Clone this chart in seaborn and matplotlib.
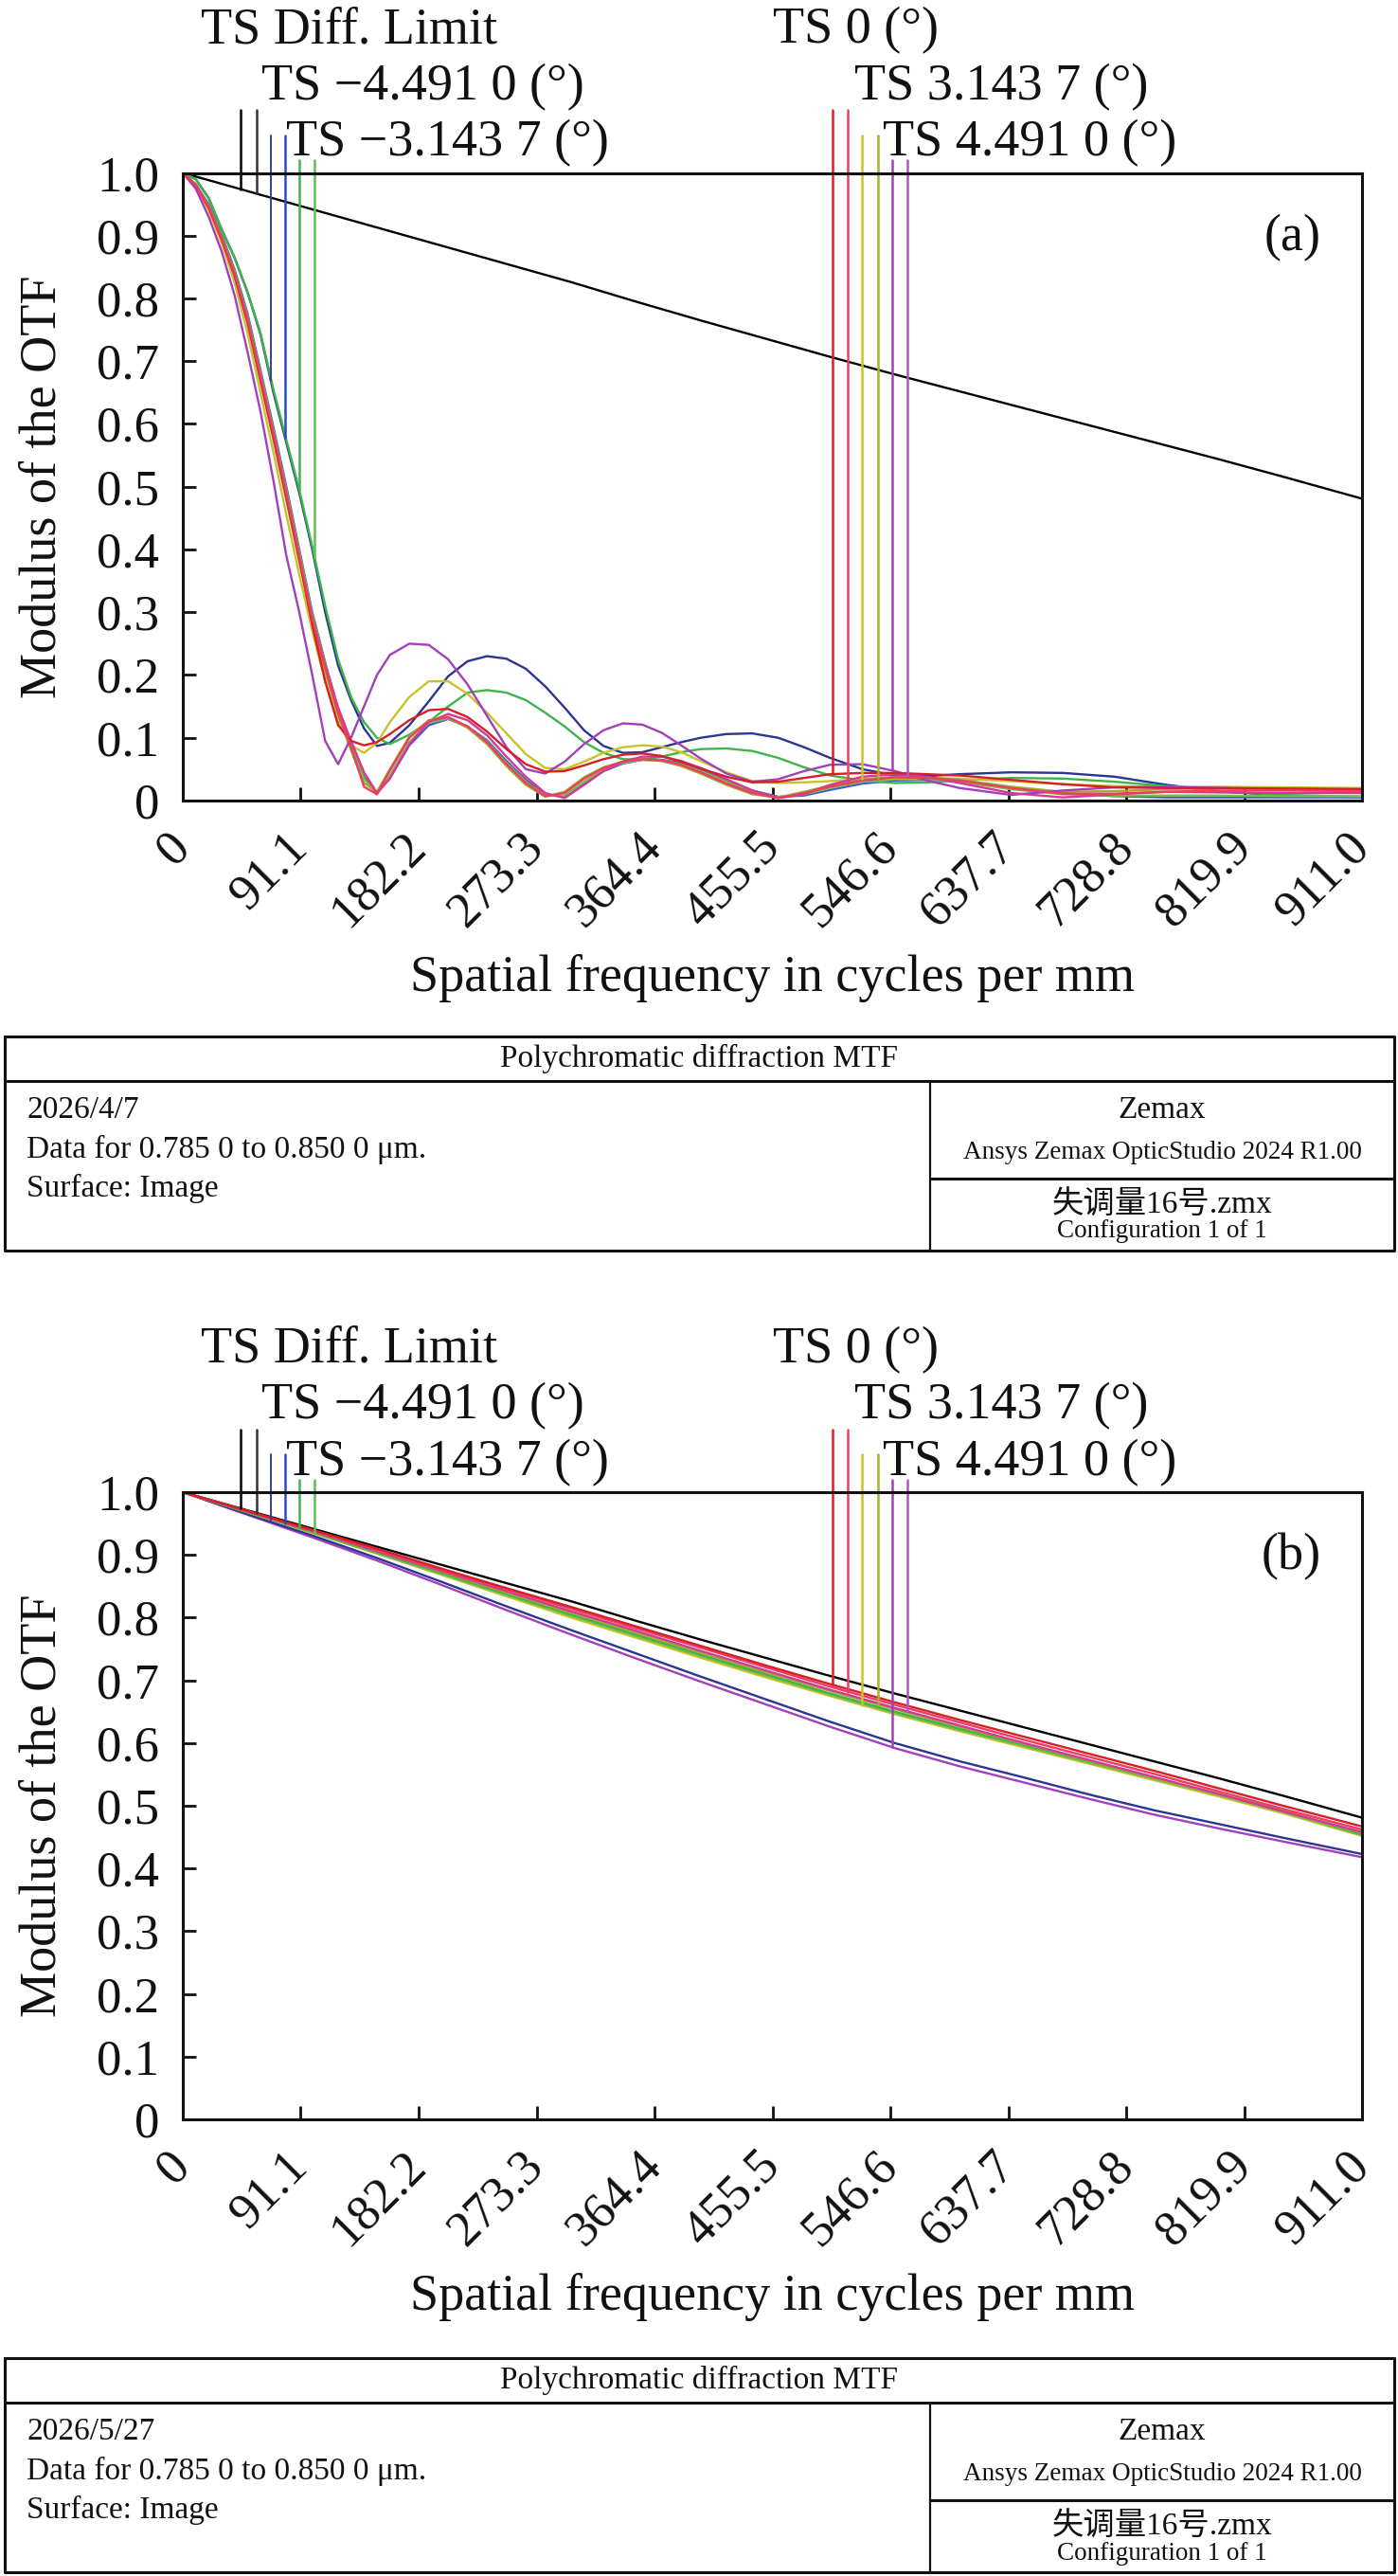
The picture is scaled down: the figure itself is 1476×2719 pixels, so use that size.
import numpy as np
import pandas as pd
import matplotlib
matplotlib.use("Agg")
import matplotlib.pyplot as plt
import seaborn as sns

# ---- data -----------------------------------------------------------------
# spatial frequency grids (cycles per mm)
freq_a = [0, 10, 20, 30, 40, 50, 60, 70, 80, 90, 100, 110, 120, 130, 140, 150, 160,
          175, 190, 205, 220, 235, 250, 265, 280, 295, 310, 325, 340, 355, 370, 385,
          400, 420, 440, 460, 480, 500, 525, 550, 575, 600, 640, 680, 720, 760, 800,
          850, 911]
freq_b = [0, 50, 100, 150, 200, 250, 300, 350, 400, 450, 500, 550, 600, 650, 700,
          750, 800, 850, 911]

diff_limit = [1.0, 0.971, 0.942, 0.913, 0.884, 0.855, 0.826, 0.795, 0.765, 0.736,
              0.707, 0.679, 0.652, 0.625, 0.598, 0.571, 0.544, 0.516, 0.481]

# (a) misaligned system
a_blue_t = [1.0, 0.99, 0.96, 0.91, 0.865, 0.81, 0.743, 0.65, 0.57, 0.49, 0.4, 0.3, 0.215,
            0.16, 0.115, 0.087, 0.092, 0.12, 0.158, 0.198, 0.222, 0.23, 0.226, 0.21, 0.182,
            0.148, 0.112, 0.087, 0.076, 0.077, 0.085, 0.093, 0.1, 0.106, 0.107, 0.1, 0.085,
            0.068, 0.05, 0.04, 0.039, 0.042, 0.045, 0.044, 0.038, 0.025, 0.015, 0.008, 0.005]
a_blue_s = [1.0, 0.982, 0.95, 0.902, 0.846, 0.776, 0.686, 0.595, 0.5, 0.4, 0.3, 0.22, 0.146,
            0.09, 0.038, 0.012, 0.036, 0.088, 0.12, 0.13, 0.118, 0.096, 0.063, 0.033, 0.01,
            0.006, 0.026, 0.047, 0.059, 0.065, 0.065, 0.06, 0.05, 0.033, 0.016, 0.006, 0.008,
            0.017, 0.027, 0.032, 0.033, 0.03, 0.02, 0.012, 0.007, 0.005, 0.005, 0.005, 0.005]
a_green_t = [1.0, 0.99, 0.96, 0.91, 0.865, 0.81, 0.745, 0.655, 0.575, 0.495, 0.405, 0.31,
             0.225, 0.165, 0.125, 0.1, 0.09, 0.105, 0.125, 0.15, 0.172, 0.176, 0.172, 0.16,
             0.14, 0.118, 0.093, 0.076, 0.066, 0.065, 0.07, 0.077, 0.082, 0.083, 0.079, 0.068,
             0.053, 0.04, 0.032, 0.028, 0.029, 0.032, 0.036, 0.035, 0.03, 0.023, 0.015, 0.009,
             0.006]
a_green_s = [1.0, 0.982, 0.948, 0.9, 0.843, 0.772, 0.682, 0.59, 0.495, 0.396, 0.296, 0.218,
             0.145, 0.088, 0.035, 0.01, 0.04, 0.093, 0.124, 0.131, 0.117, 0.094, 0.06, 0.03,
             0.008, 0.008, 0.03, 0.05, 0.06, 0.065, 0.064, 0.058, 0.047, 0.03, 0.013, 0.005,
             0.01, 0.02, 0.03, 0.034, 0.034, 0.03, 0.018, 0.01, 0.008, 0.008, 0.008, 0.007,
             0.007]
a_red_t = [1.0, 0.98, 0.945, 0.895, 0.838, 0.765, 0.672, 0.58, 0.485, 0.385, 0.28, 0.19,
           0.12, 0.095, 0.088, 0.093, 0.106, 0.128, 0.144, 0.146, 0.133, 0.11, 0.082, 0.058,
           0.046, 0.047, 0.056, 0.066, 0.073, 0.075, 0.071, 0.062, 0.051, 0.038, 0.029, 0.03,
           0.036, 0.042, 0.044, 0.044, 0.042, 0.04, 0.033, 0.026, 0.021, 0.02, 0.02, 0.019,
           0.018]
a_red_s = [1.0, 0.98, 0.946, 0.897, 0.84, 0.768, 0.677, 0.586, 0.49, 0.39, 0.29, 0.212,
           0.14, 0.085, 0.022, 0.01, 0.048, 0.1, 0.127, 0.133, 0.118, 0.093, 0.058, 0.028,
           0.007, 0.012, 0.035, 0.052, 0.062, 0.066, 0.064, 0.057, 0.045, 0.027, 0.012, 0.004,
           0.012, 0.022, 0.032, 0.037, 0.036, 0.032, 0.02, 0.011, 0.011, 0.014, 0.016, 0.016,
           0.015]
a_yellow_t = [1.0, 0.978, 0.94, 0.888, 0.825, 0.745, 0.65, 0.555, 0.455, 0.36, 0.27, 0.19,
              0.125, 0.088, 0.076, 0.092, 0.125, 0.165, 0.19, 0.19, 0.17, 0.14, 0.107, 0.074,
              0.052, 0.05, 0.062, 0.076, 0.085, 0.088, 0.086, 0.077, 0.063, 0.045, 0.031, 0.028,
              0.029, 0.031, 0.034, 0.036, 0.036, 0.035, 0.031, 0.026, 0.023, 0.022, 0.022,
              0.021, 0.02]
a_yellow_s = [1.0, 0.98, 0.944, 0.894, 0.835, 0.76, 0.668, 0.575, 0.478, 0.38, 0.285, 0.205,
              0.135, 0.08, 0.028, 0.014, 0.05, 0.102, 0.128, 0.132, 0.116, 0.09, 0.055, 0.025,
              0.006, 0.014, 0.037, 0.053, 0.062, 0.065, 0.063, 0.055, 0.043, 0.025, 0.01, 0.005,
              0.014, 0.024, 0.034, 0.038, 0.037, 0.033, 0.022, 0.014, 0.015, 0.018, 0.02, 0.02,
              0.019]
a_magenta_t = [1.0, 0.975, 0.93, 0.875, 0.805, 0.715, 0.62, 0.51, 0.39, 0.3, 0.2, 0.095,
               0.058, 0.1, 0.15, 0.2, 0.232, 0.25, 0.248, 0.225, 0.185, 0.135, 0.085, 0.05,
               0.043, 0.062, 0.09, 0.112, 0.123, 0.121, 0.108, 0.088, 0.067, 0.043, 0.03,
               0.034, 0.047, 0.057, 0.058, 0.047, 0.032, 0.02, 0.009, 0.016, 0.021, 0.022,
               0.02, 0.018, 0.016]
a_magenta_s = [1.0, 0.98, 0.945, 0.895, 0.836, 0.762, 0.67, 0.578, 0.482, 0.385, 0.29, 0.215,
               0.148, 0.095, 0.045, 0.012, 0.035, 0.09, 0.125, 0.138, 0.128, 0.104, 0.07,
               0.038, 0.012, 0.004, 0.025, 0.047, 0.062, 0.07, 0.07, 0.063, 0.052, 0.034,
               0.016, 0.004, 0.01, 0.025, 0.038, 0.042, 0.038, 0.028, 0.012, 0.005, 0.01,
               0.014, 0.013, 0.012, 0.012]

# (b) corrected system
b_red_t = [1.0, 0.97, 0.94, 0.91, 0.878, 0.847, 0.817, 0.786, 0.755, 0.724, 0.694, 0.665,
           0.637, 0.61, 0.583, 0.556, 0.528, 0.5, 0.467]
b_red_s = [1.0, 0.97, 0.939, 0.908, 0.876, 0.845, 0.814, 0.783, 0.752, 0.721, 0.69, 0.661,
           0.633, 0.605, 0.578, 0.551, 0.523, 0.495, 0.462]
b_magenta_s = [1.0, 0.969, 0.938, 0.906, 0.874, 0.842, 0.81, 0.779, 0.747, 0.716, 0.685,
               0.656, 0.628, 0.6, 0.573, 0.546, 0.519, 0.491, 0.458]
b_yellow_s = [1.0, 0.969, 0.938, 0.906, 0.873, 0.84, 0.808, 0.776, 0.744, 0.713, 0.683,
              0.654, 0.626, 0.599, 0.572, 0.545, 0.518, 0.491, 0.457]
b_green_t = [1.0, 0.968, 0.937, 0.904, 0.871, 0.838, 0.805, 0.773, 0.741, 0.71, 0.679, 0.65,
             0.623, 0.597, 0.571, 0.545, 0.519, 0.492, 0.455]
b_green_s = [1.0, 0.968, 0.936, 0.903, 0.87, 0.836, 0.803, 0.771, 0.739, 0.708, 0.677, 0.648,
             0.621, 0.595, 0.569, 0.543, 0.517, 0.49, 0.453]
b_yellow_t = [1.0, 0.968, 0.935, 0.902, 0.868, 0.834, 0.8, 0.768, 0.736, 0.705, 0.675, 0.646,
              0.619, 0.593, 0.567, 0.541, 0.515, 0.488, 0.452]
b_blue_s = [1.0, 0.968, 0.936, 0.903, 0.869, 0.835, 0.802, 0.77, 0.738, 0.707, 0.676, 0.647,
            0.62, 0.594, 0.568, 0.542, 0.516, 0.489, 0.454]
b_blue_t = [1.0, 0.965, 0.931, 0.895, 0.857, 0.818, 0.78, 0.743, 0.706, 0.67, 0.634, 0.6,
            0.571, 0.545, 0.518, 0.493, 0.471, 0.449, 0.423]
b_magenta_t = [1.0, 0.964, 0.928, 0.891, 0.852, 0.812, 0.773, 0.735, 0.698, 0.662, 0.626,
               0.592, 0.563, 0.537, 0.511, 0.486, 0.464, 0.443, 0.418]

x_ticks = [0, 91.1, 182.2, 273.3, 364.4, 455.5, 546.6, 637.7, 728.8, 819.9, 911.0]
x_ticklabels = ["0", "91.1", "182.2", "273.3", "364.4", "455.5", "546.6", "637.7",
                "728.8", "819.9", "911.0"]
y_ticks = [0, 0.1, 0.2, 0.3, 0.4, 0.5, 0.6, 0.7, 0.8, 0.9, 1.0]
y_ticklabels = ["0", "0.1", "0.2", "0.3", "0.4", "0.5", "0.6", "0.7", "0.8", "0.9", "1.0"]

field_labels = ["TS Diff. Limit", "TS \u22124.491 0 (\u00b0)", "TS \u22123.143 7 (\u00b0)",
                "TS 0 (\u00b0)", "TS 3.143 7 (\u00b0)", "TS 4.491 0 (\u00b0)"]
dates = ["2026/4/7", "2026/5/27"]

# ---- style ----------------------------------------------------------------
colors = {
    "diff": "#000000",
    "blue_t": "#2b3592", "blue_s": "#3c5ccf",
    "green_t": "#3db54a", "green_s": "#74bf44",
    "red_t": "#d71f26", "red_s": "#ee3d5e",
    "yellow_t": "#c9c32a", "yellow_s": "#9fac2f",
    "magenta_t": "#a23fbb", "magenta_s": "#d6389a",
}
# colours of the short marker lines hanging under the labels (two per field)
marker_colors = [("#000000", "#333333"), ("#3a3f95", "#2b4bbd"), ("#3db54a", "#5cc04a"),
                 ("#d71f26", "#ee3d5e"), ("#c9c32a", "#a8b030"), ("#a23fbb", "#b653c6")]
marker_x = [(45, 57), (68, 79), (90, 102), (502, 514), (525, 537), (548, 560)]
marker_top = [1.10, 1.06, 1.02, 1.10, 1.06, 1.02]
label_pos = [(14, 1.207), (61, 1.117), (80, 1.027), (456, 1.207), (519, 1.117), (541, 1.027)]

panels = [
    {
        "tag": "(a)",
        "date": dates[0],
        "curves": {
            "blue_t": a_blue_t, "blue_s": a_blue_s, "green_t": a_green_t,
            "green_s": a_green_s, "yellow_t": a_yellow_t, "yellow_s": a_yellow_s,
            "magenta_t": a_magenta_t, "magenta_s": a_magenta_s,
            "red_t": a_red_t, "red_s": a_red_s,
        },
        "freq": freq_a,
        "targets": [("diff", "diff"), ("blue_t", "blue_t"), ("green_t", "green_t"),
                    ("red_t", "red_s"), ("yellow_t", "yellow_s"), ("magenta_t", "magenta_s")],
        "ax_rect": [193 / 1476, 1 - 845 / 2719, 1245 / 1476, 662.5 / 2719],
        "table_top": 1094,
    },
    {
        "tag": "(b)",
        "date": dates[1],
        "curves": {
            "magenta_t": b_magenta_t, "blue_t": b_blue_t, "blue_s": b_blue_s,
            "yellow_t": b_yellow_t, "green_s": b_green_s, "green_t": b_green_t,
            "yellow_s": b_yellow_s, "magenta_s": b_magenta_s,
            "red_s": b_red_s, "red_t": b_red_t,
        },
        "freq": freq_b,
        "targets": [("diff", "diff"), ("blue_t", "blue_s"), ("green_t", "green_s"),
                    ("red_t", "red_s"), ("yellow_t", "yellow_s"), ("magenta_t", "magenta_s")],
        "ax_rect": [193 / 1476, 1 - 2237 / 2719, 1245 / 1476, 662 / 2719],
        "table_top": 2489,
    },
]

sns.set_theme(style="white")
plt.rcParams["font.family"] = ["Liberation Serif", "Noto Sans CJK SC", "DejaVu Sans"]
plt.rcParams["axes.linewidth"] = 2.2

fig = plt.figure(figsize=(14.76, 27.19), dpi=100)

for p in panels:
    ax = fig.add_axes(p["ax_rect"])

    frames = [pd.DataFrame({"freq": freq_b, "mtf": diff_limit, "curve": "diff"})]
    for name, vals in p["curves"].items():
        frames.append(pd.DataFrame({"freq": p["freq"], "mtf": vals, "curve": name}))
    df = pd.concat(frames, ignore_index=True)
    order = ["diff"] + list(p["curves"].keys())

    sns.lineplot(data=df, x="freq", y="mtf", hue="curve", hue_order=order,
                 palette=colors, estimator=None, sort=False, legend=False,
                 linewidth=1.7, ax=ax)

    # label rows above the plot with the hanging marker lines
    lookup = {"diff": (freq_b, diff_limit)}
    for name, vals in p["curves"].items():
        lookup[name] = (p["freq"], vals)
    for i, label in enumerate(field_labels):
        for j in range(2):
            fx, fy = lookup[p["targets"][i][j]]
            xm = marker_x[i][j]
            ym = np.interp(xm, fx, fy)
            ax.plot([xm, xm], [ym, marker_top[i]], color=marker_colors[i][j],
                    linewidth=1.4 if (i == 1 and j == 0) else 1.8, clip_on=False)
        ax.text(label_pos[i][0], label_pos[i][1], label, fontsize=39, va="baseline",
                ha="left", color="#111111")

    ax.set_xlim(0, 911)
    ax.set_ylim(0, 1.0)
    ax.set_xticks(x_ticks)
    ax.set_xticklabels(x_ticklabels, rotation=45, ha="right", va="center",
                       rotation_mode="anchor")
    ax.set_yticks(y_ticks)
    ax.set_yticklabels(y_ticklabels)
    ax.tick_params(axis="both", direction="in", length=10, width=2, labelsize=38,
                   colors="#111111", bottom=True, left=True, top=False, right=False)
    ax.tick_params(axis="x", pad=30)
    ax.tick_params(axis="y", pad=18)
    for s in ax.spines.values():
        s.set_color("#111111")
        s.set_linewidth(2.2)
    ax.set_xlabel("Spatial frequency in cycles per mm", fontsize=39, labelpad=14,
                  color="#111111")
    ax.set_ylabel("Modulus of the OTF", fontsize=39, color="#111111")
    ax.yaxis.set_label_coords(-0.098, 0.5)
    ax.text(0.965, 0.935, p["tag"], transform=ax.transAxes, fontsize=39,
            ha="right", va="top", color="#111111")

    # info box under the plot
    top = p["table_top"]
    tb = fig.add_axes([5 / 1476, 1 - (top + 226) / 2719, 1467 / 1476, 226 / 2719])
    tb.set_xlim(0, 1467)
    tb.set_ylim(226, 0)
    tb.axis("off")
    lw = 2.2
    tb.plot([0, 1467, 1467, 0, 0], [0, 0, 226, 226, 0], color="#111111", lw=lw,
            clip_on=False)
    tb.plot([0, 1467], [47, 47], color="#111111", lw=lw)
    tb.plot([977, 977], [47, 226], color="#111111", lw=1.6)
    tb.plot([977, 1467], [150, 150], color="#111111", lw=lw)
    tb.text(733, 23, "Polychromatic diffraction MTF", fontsize=24, ha="center",
            va="center", color="#111111")
    tb.text(23, 78, p["date"], fontsize=24, ha="left", va="center", color="#111111")
    tb.text(23, 119, "Data for 0.785 0 to 0.850 0 \u03bcm.", fontsize=24, ha="left",
            va="center", color="#111111")
    tb.text(23, 160, "Surface: Image", fontsize=24, ha="left", va="center",
            color="#111111")
    tb.text(1222, 78, "Zemax", fontsize=24, ha="center", va="center", color="#111111")
    tb.text(1222, 123, "Ansys Zemax OpticStudio 2024 R1.00", fontsize=19.5,
            ha="center", va="center", color="#111111")
    tb.text(1222, 177, "失调量16号.zmx", fontsize=24, ha="center", va="center",
            color="#111111")
    tb.text(1222, 206, "Configuration 1 of 1", fontsize=19.5, ha="center",
            va="center", color="#111111")

fig.savefig("out.png", dpi=100, facecolor="white")
